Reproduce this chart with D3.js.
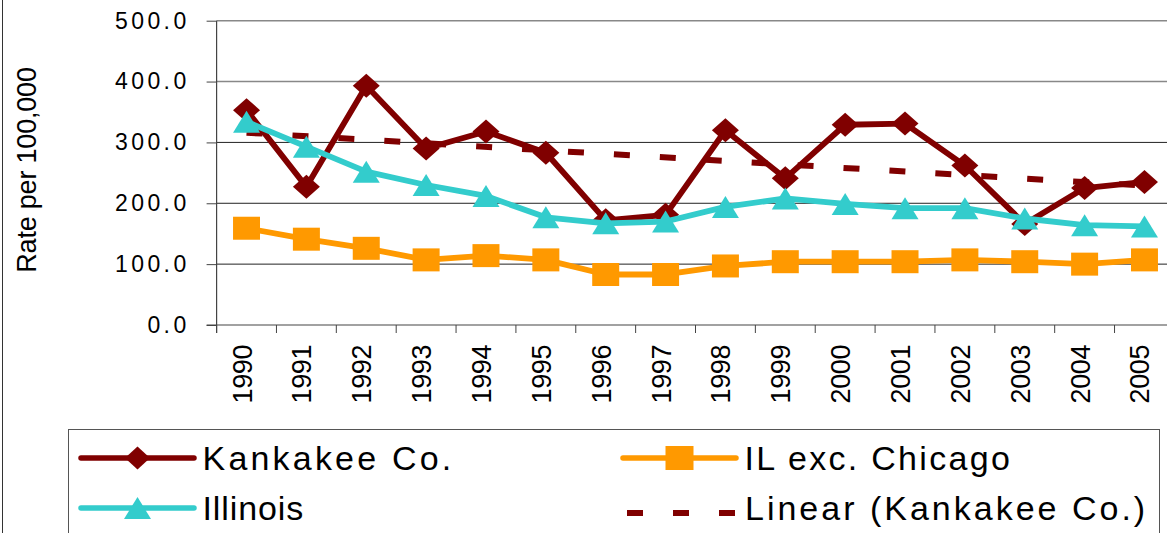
<!DOCTYPE html>
<html>
<head>
<meta charset="utf-8">
<script src="https://cdn.jsdelivr.net/npm/d3@7"></script>
<style>
  html, body { margin: 0; padding: 0; background: #fff; }
  svg { display: block; }
  text { font-family: "Liberation Sans", Arial, sans-serif; fill: #000; }
</style>
</head>
<body>
<svg id="chart" width="1167" height="533"></svg>
<script>
// ---- data ----
const years = ["1990","1991","1992","1993","1994","1995","1996","1997","1998","1999","2000","2001","2002","2003","2004","2005"];
const kankakee     = [353, 227, 393, 290, 318, 283, 172, 181, 320, 241, 329, 331, 262, 166, 225, 235];
const ilExcChicago = [159, 141, 126, 107, 114, 107, 83, 83, 97, 104, 104, 104, 107, 104, 100, 107];
const illinois     = [334, 293, 252, 230, 212, 177, 167, 170, 194, 208, 199, 192, 192, 175, 164, 162];
const trendYears = ["1990", "2005"];
const trendKankakee = [316, 229];
const yTicks = [0, 100, 200, 300, 400, 500];
const legendNames = ["Kankakee Co.", "IL exc. Chicago", "Illinois", "Linear (Kankakee Co.)"];

// ---- layout ----
const svg = d3.select("#chart");
const W = 1167, H = 533;
const x = d3.scaleBand().domain(years).range([216.6, 1174.4]).paddingInner(0).paddingOuter(0);
const y = d3.scaleLinear().domain([0, 500]).range([325, 20.7]);
const cx = d => x(d) + x.bandwidth() / 2;

const C_K = "#800000", C_O = "#FF9900", C_I = "#33CCCC";

// outer border (left edge visible)
svg.append("line").attr("x1", 2.5).attr("x2", 2.5).attr("y1", 0).attr("y2", H)
  .attr("stroke", "#333").attr("stroke-width", 1);

// gridlines
svg.append("g").selectAll("line").data(yTicks.filter(v => v > 0)).join("line")
  .attr("x1", 216.6).attr("x2", W).attr("y1", d => y(d)).attr("y2", d => y(d))
  .attr("stroke", d => d >= 400 ? "#888" : "#222")
  .attr("stroke-width", d => d >= 400 ? 1.6 : 1);

// y axis
const yAxis = d3.axisLeft(y).tickValues(yTicks).tickSize(10).tickPadding(0).tickFormat(d3.format(".1f"));
const gy = svg.append("g").attr("transform", "translate(216.6,0)").call(yAxis);
gy.select(".domain").remove();
gy.selectAll(".tick line").attr("stroke", "#444");
gy.selectAll(".tick text")
  .attr("x", -27).attr("dy", "0.32em")
  .style("font-size", "23px").style("letter-spacing", "3.4px")
  .style("font-family", '"Liberation Sans", Arial, sans-serif').attr("fill", "#000");
svg.append("line").attr("x1", 216.6).attr("x2", 216.6).attr("y1", y(500)).attr("y2", 333)
  .attr("stroke", "#444").attr("stroke-width", 1.2);

// x axis
svg.append("line").attr("x1", 206.6).attr("x2", W).attr("y1", y(0)).attr("y2", y(0))
  .attr("stroke", "#444").attr("stroke-width", 1.2);
svg.append("g").selectAll("line").data(years).join("line")
  .attr("x1", d => x(d)).attr("x2", d => x(d)).attr("y1", y(0)).attr("y2", 333)
  .attr("stroke", "#444").attr("stroke-width", 1);
svg.append("g").selectAll("text").data(years).join("text")
  .attr("transform", d => `translate(${cx(d) + 5},345) rotate(-90)`)
  .attr("text-anchor", "end")
  .style("font-size", "27px").style("letter-spacing", "-0.4px")
  .text(d => d);

// y axis title
svg.append("text")
  .attr("transform", "translate(36,170) rotate(-90)")
  .attr("text-anchor", "middle")
  .style("font-size", "27px").style("letter-spacing", "-0.2px")
  .text("Rate per 100,000");

// ---- series ----
const line = d3.line().x((d, i) => cx(years[i])).y(d => y(d));

// trend line
svg.append("path")
  .datum(trendKankakee)
  .attr("d", d3.line().x((d, i) => cx(trendYears[i])).y(d => y(d)))
  .attr("fill", "none").attr("stroke", C_K).attr("stroke-width", 6)
  .attr("stroke-dasharray", "16,30");

const diamond = (w, h) => `M0,${-h/2}L${w/2},0L0,${h/2}L${-w/2},0Z`;
const square = (w, h) => `M${-w/2},${-h/2}H${w/2}V${h/2}H${-w/2}Z`;
const triangle = (w, h) => `M0,${-h/2}L${w/2},${h/2}L${-w/2},${h/2}Z`;

function series(vals, color, shape) {
  const g = svg.append("g");
  g.append("path").datum(vals).attr("d", line)
    .attr("fill", "none").attr("stroke", color).attr("stroke-width", 5.8)
    .attr("stroke-linejoin", "round");
  g.selectAll("path.m").data(vals).join("path").attr("class", "m")
    .attr("transform", (d, i) => `translate(${cx(years[i])},${y(d)})`)
    .attr("d", shape).attr("fill", color);
}
series(kankakee, C_K, diamond(27, 24));
series(ilExcChicago, C_O, square(27, 23));
series(illinois, C_I, triangle(27, 22));

// ---- legend ----
svg.append("rect").attr("x", 68.5).attr("y", 429.5).attr("width", 1091).attr("height", 200)
  .attr("fill", "none").attr("stroke", "#555").attr("stroke-width", 1);

const leg = [
  {name: legendNames[0], color: C_K, shape: diamond(25, 23), x0: 81, row: 0, ls: 3.2},
  {name: legendNames[1], color: C_O, shape: square(28, 24), x0: 623, row: 0, ls: 2.3},
  {name: legendNames[2], color: C_I, shape: triangle(27, 22), x0: 81, row: 1, ls: 0.9},
];
const rowY = [458, 508];
const rowBase = [470, 520];
leg.forEach(l => {
  svg.append("line").attr("x1", l.x0).attr("x2", l.x0 + 113).attr("y1", rowY[l.row]).attr("y2", rowY[l.row])
    .attr("stroke", l.color).attr("stroke-width", 5.5).attr("stroke-linecap", "round");
  svg.append("path").attr("transform", `translate(${l.x0 + 56.5},${rowY[l.row]})`)
    .attr("d", l.shape).attr("fill", l.color);
  svg.append("text").attr("x", l.x0 + 121.5).attr("y", rowBase[l.row])
    .style("font-size", "34px").style("letter-spacing", l.ls + "px").text(l.name);
});
svg.append("line").attr("x1", 627).attr("x2", 735).attr("y1", rowY[1] + 5).attr("y2", rowY[1] + 5)
  .attr("stroke", C_K).attr("stroke-width", 6).attr("stroke-dasharray", "16,30");
svg.append("text").attr("x", 745).attr("y", rowBase[1])
  .style("font-size", "34px").style("letter-spacing", "3px").text(legendNames[3]);
</script>
</body>
</html>
